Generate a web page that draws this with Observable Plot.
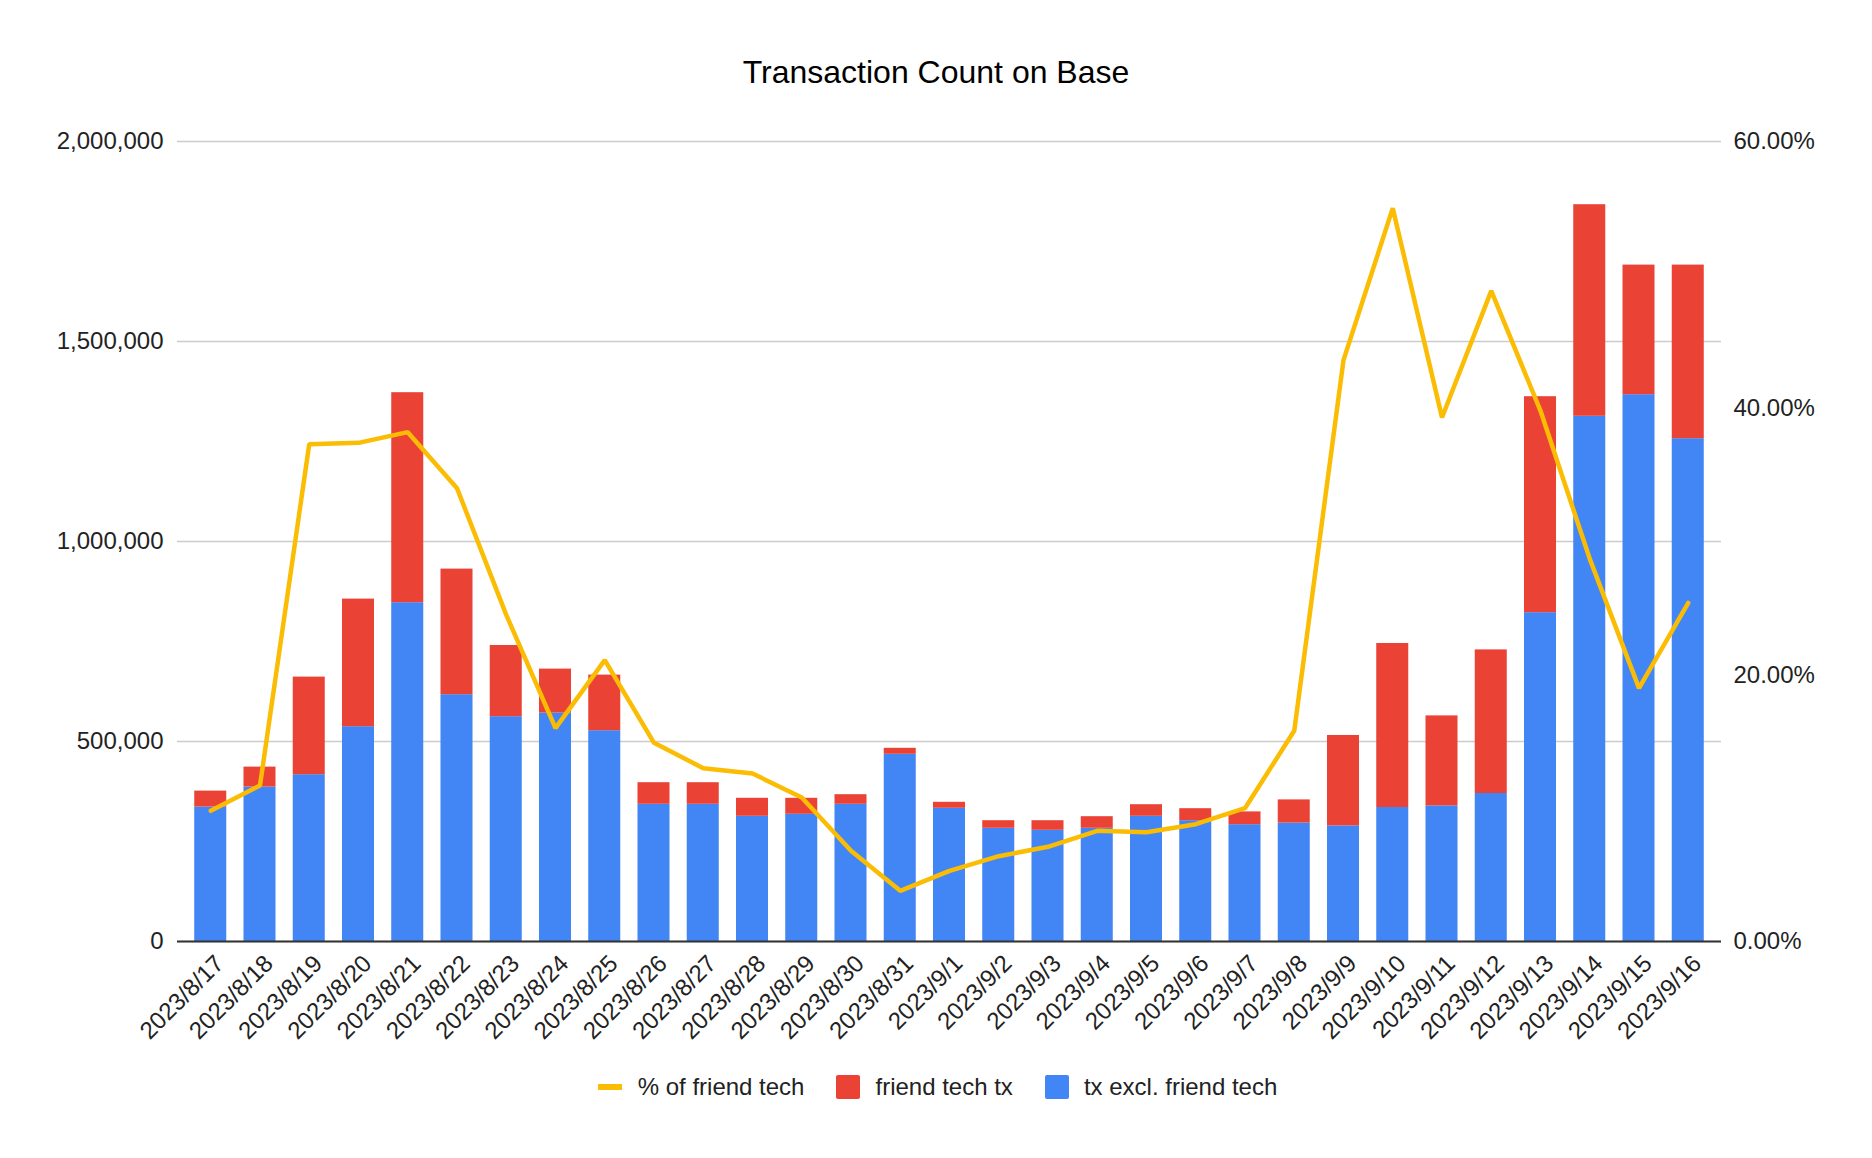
<!DOCTYPE html>
<html>
<head>
<meta charset="utf-8">
<script src="https://cdn.jsdelivr.net/npm/d3@7"></script>
<script src="https://cdn.jsdelivr.net/npm/@observablehq/plot@0.6"></script>
<style>
  body { margin: 0; background: #fff; font-family: "Liberation Sans", Arial, sans-serif; }
  #title { height: 110px; box-sizing: border-box; padding-top: 56px; font-size: 32px; line-height: 32px; text-align: center; color: #000; }
  #chart svg { display: block; }
  #legend { display: flex; justify-content: center; align-items: center; margin-top: 15px; padding-left: 3px; font-size: 24px; line-height: 24px; color: #222; }
  .item { display: flex; align-items: center; margin: 0 16px; }
  .sw { width: 24px; height: 24px; border-radius: 2px; margin-right: 15px; }
  .ln { width: 24px; height: 6px; margin-right: 16px; }
</style>
</head>
<body>
<div id="title">Transaction Count on Base</div>
<div id="chart"></div>
<div id="legend">
  <div class="item"><div class="ln" style="background:#fbbc04"></div>% of friend tech</div>
  <div class="item"><div class="sw" style="background:#ea4335"></div>friend tech tx</div>
  <div class="item"><div class="sw" style="background:#4285f4"></div>tx excl. friend tech</div>
</div>
<script>
const dates = ["2023/8/17","2023/8/18","2023/8/19","2023/8/20","2023/8/21","2023/8/22","2023/8/23","2023/8/24","2023/8/25","2023/8/26","2023/8/27","2023/8/28","2023/8/29","2023/8/30","2023/8/31","2023/9/1","2023/9/2","2023/9/3","2023/9/4","2023/9/5","2023/9/6","2023/9/7","2023/9/8","2023/9/9","2023/9/10","2023/9/11","2023/9/12","2023/9/13","2023/9/14","2023/9/15","2023/9/16"];
const txExcl = [336000,386000,417000,537000,847000,617000,562000,571000,527000,343000,343000,313000,318000,343000,468000,333000,283000,278000,283000,313000,302000,292000,296000,289000,335000,339000,370000,822000,1313000,1367000,1257000];
const friendTx = [40000,50000,244000,319000,525000,314000,178000,110000,139000,54000,54000,45000,40000,24000,15000,15000,19000,24000,29000,29000,30000,32000,58000,226000,410000,225000,359000,540000,529000,324000,434000];
const pctFriend = [9.8,11.7,37.3,37.4,38.2,34.0,24.5,16.0,21.1,14.9,13.0,12.6,10.8,6.8,3.8,5.3,6.4,7.1,8.3,8.2,8.8,10.0,15.8,43.6,55.0,39.3,48.8,39.8,28.7,19.0,25.4];
const leftTicks = [0,500000,1000000,1500000,2000000];
const rightTickPcts = [0,20,40,60];
const seriesNames = ["friend tech tx","tx excl. friend tech"];
const seriesColors = ["#ea4335","#4285f4"];

const yMax = 2000000, pctMax = 60;
const bars = [];
dates.forEach((d, i) => {
  bars.push({date: d, series: "tx excl. friend tech", value: txExcl[i]});
  bars.push({date: d, series: "friend tech tx", value: friendTx[i]});
});
const line = dates.map((d, i) => ({date: d, pct: pctFriend[i]}));

const chart = Plot.plot({
  width: 1872,
  height: 950,
  marginTop: 31,
  marginBottom: 119,
  marginLeft: 177,
  marginRight: 151,
  style: {fontFamily: "'Liberation Sans', Arial, sans-serif", fontSize: "24px", color: "#222", background: "#fff"},
  x: {domain: dates, padding: 0.35, round: false, label: null},
  y: {domain: [0, yMax], label: null},
  color: {domain: seriesNames, range: seriesColors},
  marks: [
    Plot.gridY(leftTicks, {stroke: "#cccccc", strokeOpacity: 1, strokeWidth: 1.5}),
    Plot.barY(bars, {x: "date", y: "value", fill: "series", order: ["tx excl. friend tech", "friend tech tx"]}),
    Plot.ruleY([0], {stroke: "#333", strokeWidth: 2}),
    Plot.lineY(line, {x: "date", y: d => d.pct / pctMax * yMax, stroke: "#fbbc04", strokeWidth: 4.5, strokeLinejoin: "miter"}),
    Plot.axisY(leftTicks, {anchor: "left", tickSize: 0, tickPadding: 14, tickFormat: d3.format(","), fontSize: 24, label: null}),
    Plot.axisY(rightTickPcts.map(p => p / pctMax * yMax), {anchor: "right", tickSize: 0, tickPadding: 12, tickFormat: d => (d / yMax * pctMax).toFixed(2) + "%", fontSize: 24, label: null}),
    Plot.axisX({tickRotate: -45, tickSize: 0, tickPadding: 18, dx: 9, fontSize: 24, label: null})
  ]
});
document.getElementById("chart").appendChild(chart);
</script>
</body>
</html>
